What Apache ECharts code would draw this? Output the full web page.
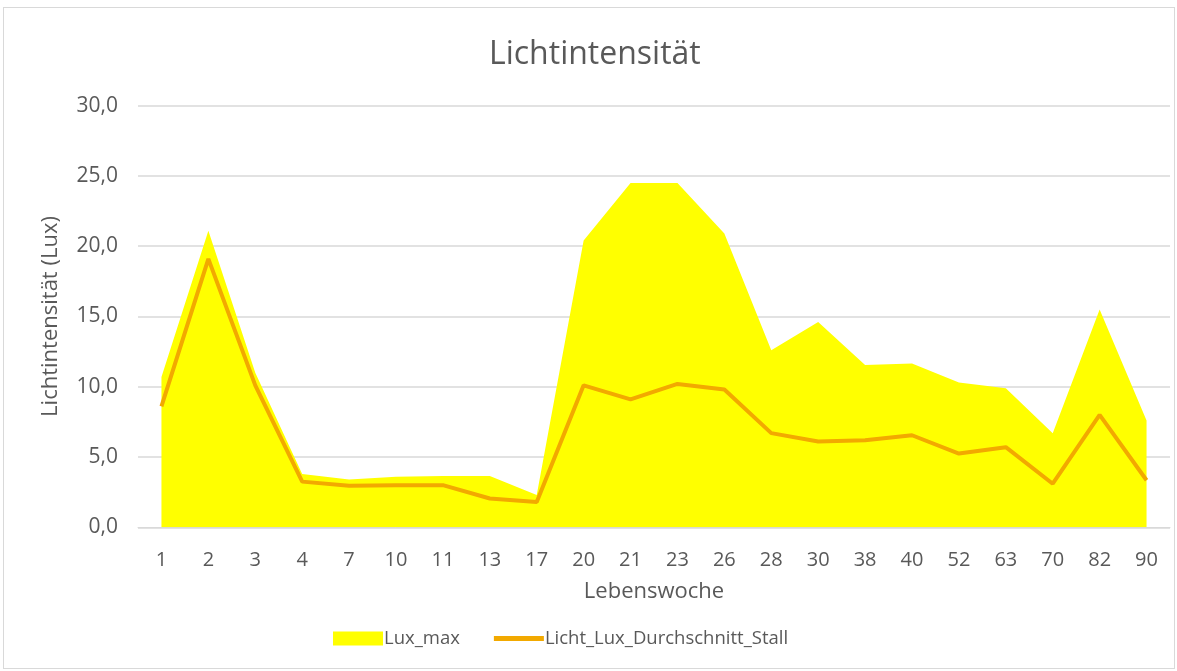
<!DOCTYPE html>
<html>
<head>
<meta charset="utf-8">
<script src="https://cdn.jsdelivr.net/npm/echarts@6/dist/echarts.min.js"></script>
<style>
  html, body { margin: 0; padding: 0; background: #fff; }
  #frame { position: absolute; left: 3px; top: 7px; width: 1172px; height: 662px; border: 1px solid #d9d9d9; box-sizing: border-box; }
  #chart { position: absolute; left: 0; top: 0; width: 1177px; height: 671px; }
</style>
</head>
<body>
<div id="frame"></div>
<div id="chart"></div>
<script>
// Lebenswoche
const weeks = ['1', '2', '3', '4', '7', '10', '11', '13', '17', '20', '21', '23', '26', '28', '30', '38', '40', '52', '63', '70', '82', '90']
// Lux_max (Fläche)
const luxMax = [10.7, 21.1, 11.0, 3.8, 3.4, 3.6, 3.65, 3.65, 2.3, 20.4, 24.5, 24.5, 20.9, 12.6, 14.6, 11.55, 11.65, 10.3, 9.9, 6.7, 15.5, 7.6]
// Licht_Lux_Durchschnitt_Stall (Linie)
const luxAvg = [8.6, 19.1, 10.1, 3.25, 2.95, 3.0, 3.0, 2.05, 1.8, 10.1, 9.1, 10.2, 9.8, 6.7, 6.1, 6.2, 6.55, 5.25, 5.7, 3.1, 8.0, 3.35]
const yTicks = [0, 5, 10, 15, 20, 25, 30]

const font = 'Open Sans'
const grey = '#595959'

const chart = echarts.init(document.getElementById('chart'))
chart.setOption({
  animation: false,
  textStyle: { fontFamily: font },
  title: {
    text: 'Lichtintensität',
    left: 484,
    top: 34,
    textStyle: { fontFamily: font, fontSize: 32, fontWeight: 'normal', color: grey }
  },
  legend: {
    top: 624,
    left: 328,
    itemWidth: 50,
    itemHeight: 14,
    itemGap: 34,
    textStyle: { fontFamily: font, fontSize: 18.5, color: grey, padding: [0, 0, 0, -4] },
    data: [
      { name: 'Lux_max', icon: 'rect' },
      { name: 'Licht_Lux_Durchschnitt_Stall', icon: 'path://M0,0L50,0L50,5L0,5Z' }
    ]
  },
  grid: { left: 138, right: 7, top: 105.7, bottom: 143.7, containLabel: false },
  xAxis: {
    type: 'category',
    data: weeks,
    boundaryGap: true,
    name: 'Lebenswoche',
    nameLocation: 'middle',
    nameGap: 53,
    nameTextStyle: { fontFamily: font, fontSize: 22, color: grey },
    axisLine: { show: true, lineStyle: { color: '#d9d9d9', width: 1 } },
    axisTick: { show: false },
    axisLabel: { color: grey, fontSize: 20, margin: 23, interval: 0 }
  },
  yAxis: {
    type: 'value',
    min: yTicks[0],
    max: yTicks[yTicks.length - 1],
    interval: 5,
    name: 'Lichtintensität (Lux)',
    nameLocation: 'middle',
    nameGap: 76,
    nameRotate: 90,
    nameTextStyle: { fontFamily: font, fontSize: 22, color: grey },
    axisLine: { show: false },
    axisTick: { show: false },
    splitLine: { lineStyle: { color: '#d9d9d9', width: 1.5 } },
    axisLabel: {
      color: grey,
      fontSize: 21,
      margin: 20,
      formatter: v => v.toFixed(1).replace('.', ',')
    }
  },
  series: [
    {
      name: 'Lux_max',
      type: 'line',
      data: luxMax,
      symbol: 'none',
      color: '#ffff00',
      lineStyle: { width: 0, color: '#ffff00' },
      areaStyle: { color: '#ffff00', opacity: 1 },
      z: 1
    },
    {
      name: 'Licht_Lux_Durchschnitt_Stall',
      type: 'line',
      data: luxAvg,
      symbol: 'none',
      color: '#f2a900',
      lineStyle: { width: 4, color: '#f2a900' },
      z: 2
    }
  ]
})
</script>
</body>
</html>
